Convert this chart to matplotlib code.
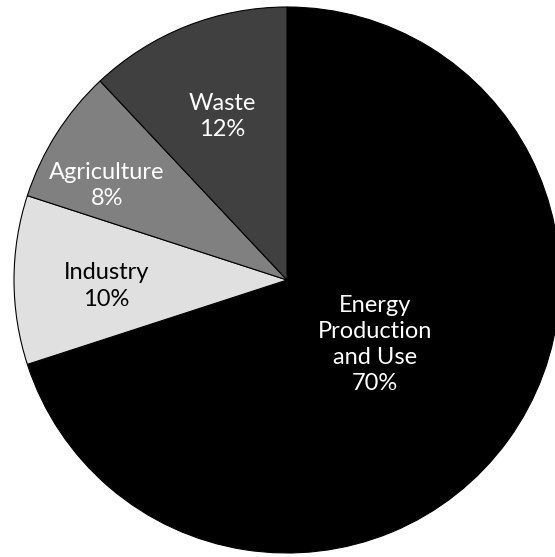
import numpy as np
import matplotlib
matplotlib.use("Agg")
import matplotlib.pyplot as plt

categories = ["Energy\nProduction\nand Use", "Industry", "Agriculture", "Waste"]
values = [70, 10, 8, 12]
colors = ["#000000", "#e0e0e0", "#808080", "#404040"]
text_colors = ["white", "black", "white", "white"]
# label placement (radius, angle in degrees) relative to pie center
label_pos = [(0.40, -36), (0.663, 181.9), (0.744, 152.4), (0.643, 111.7)]

W, H = 555, 557
fig = plt.figure(figsize=(W / 100, H / 100), dpi=100)
ax = fig.add_axes([0, 0, 1, 1])
cx, cy, R = 287, 280, 273  # pixel center (from top) and radius

wedges, _ = ax.pie(values, colors=colors, startangle=90, counterclock=False,
                   radius=1, center=(0, 0), frame=True,
                   wedgeprops=dict(edgecolor="#000000", linewidth=0.8))
ax.set_xlim(-cx / R, (W - cx) / R)
ax.set_ylim(-(H - cy) / R, cy / R)
ax.set_aspect("auto")
ax.axis("off")

for cat, v, tc, (r, a) in zip(categories, values, text_colors, label_pos):
    t = np.deg2rad(a)
    ax.text(r * np.cos(t), r * np.sin(t), f"{cat}\n{v}%", ha="center", va="center",
            color=tc, fontsize=17, family="Lato", linespacing=1.3)

fig.savefig("out.png", dpi=100)
